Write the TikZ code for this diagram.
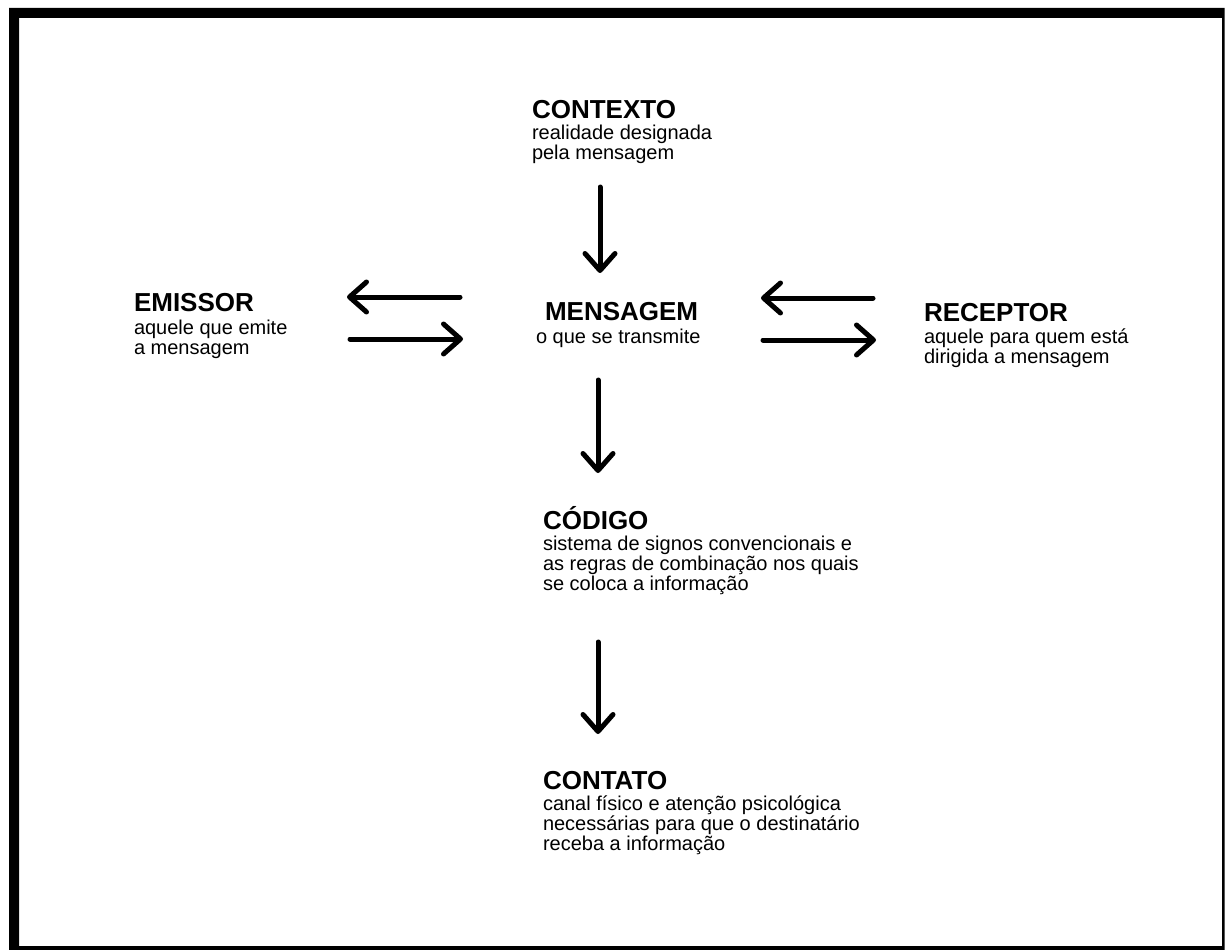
\documentclass[tikz,border=0pt]{standalone}
\usepackage{fontspec}
\setmainfont{Liberation Sans}
\usetikzlibrary{arrows.meta}
\newcommand{\ttlfont}{\fontsize{26pt}{26pt}\selectfont\bfseries}
\newcommand{\bodyfont}{\fontsize{20pt}{20pt}\selectfont}
\newcommand{\blockt}[3]{\vtop{\baselineskip=20pt\lineskiplimit=-100pt\lineskip=0pt
  \hbox{\ttlfont #1}\vskip#2\relax #3}}
\newcommand{\bline}[1]{\hbox{\bodyfont #1}}
\begin{document}
\begin{tikzpicture}[x=1pt,y=-1pt,
  txt/.style={anchor=base west,inner sep=0pt,outer sep=0pt},
  arr/.style={line width=5pt,line cap=round,-{Straight Barb[length=17pt,width=30pt,round]}}]
\useasboundingbox (0,0) rectangle (1227,950);
\fill[white] (0,0) rectangle (1227,950);
\fill[black,even odd rule] (9,8) rectangle (1224.5,950) (19,18) rectangle (1222,946);

\node[txt] (ctx) at (532,118) {\blockt{CONTEXTO}{1pt}{\bline{realidade designada}\bline{pela mensagem}}};
\node[txt] (emi) at (134,311) {\blockt{EMISSOR}{3pt}{\bline{aquele que emite}\bline{a mensagem}}};
\node[txt] (msg) at (536,320) {\blockt{\hspace{9pt}MENSAGEM}{3pt}{\bline{o que se transmite}}};
\node[txt] (rec) at (924,321) {\blockt{RECEPTOR}{2pt}{\bline{aquele para quem está}\bline{dirigida a mensagem}}};
\node[txt] (cod) at (543,529) {\blockt{CÓDIGO}{1pt}{\bline{sistema de signos convencionais e}\bline{as regras de combinação nos quais}\bline{se coloca a informação}}};
\node[txt] (cnt) at (543,789) {\blockt{CONTATO}{1pt}{\bline{canal físico e atenção psicológica}\bline{necessárias para que o destinatário}\bline{receba a informação}}};

\coordinate (a1s) at (600,187); \coordinate (a1e) at (600,273);
\coordinate (a2s) at (598,380); \coordinate (a2e) at (598,473);
\coordinate (a3s) at (598,642); \coordinate (a3e) at (598,734);
\coordinate (l1s) at (460,297); \coordinate (l1e) at (347,297);
\coordinate (l2s) at (350,339); \coordinate (l2e) at (463,339);
\coordinate (r1s) at (873,298); \coordinate (r1e) at (761,298);
\coordinate (r2s) at (763,340); \coordinate (r2e) at (876,340);

\draw[arr] (a1s) -- (a1e);
\draw[arr] (a2s) -- (a2e);
\draw[arr] (a3s) -- (a3e);
\draw[arr] (l1s) -- (l1e);
\draw[arr] (l2s) -- (l2e);
\draw[arr] (r1s) -- (r1e);
\draw[arr] (r2s) -- (r2e);
\end{tikzpicture}
\end{document}
